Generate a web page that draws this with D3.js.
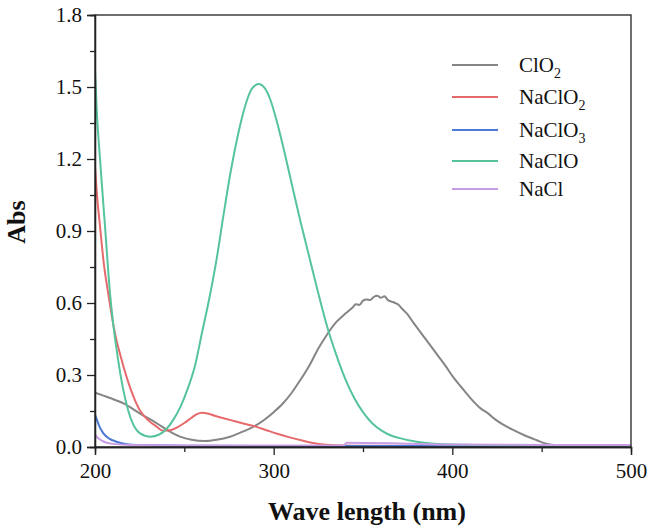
<!DOCTYPE html>
<html>
<head>
<meta charset="utf-8">
<script src="https://cdn.jsdelivr.net/npm/d3@7"></script>
<style>
  html, body { margin: 0; padding: 0; background: #fff; }
  svg { display: block; }
  text { font-family: "Liberation Serif", "Times New Roman", serif; fill: #111; }
</style>
</head>
<body>
<svg id="chart" width="649" height="529"></svg>
<script>
// ---- Data ----
const seriesNames = ["ClO2", "NaClO2", "NaClO3", "NaClO", "NaCl"];
const seriesColors = ["#858585", "#e66a6c", "#4d78d6", "#55c49b", "#c89ce4"];

const wlClO2  = [200, 208, 216, 225, 234.5, 241, 247.6, 254, 261.6, 268, 275.6, 283, 290.5, 300, 305, 310, 315, 320, 325, 330, 335, 340, 344, 346, 348, 350, 352, 354, 356, 358, 360, 362, 364, 366, 368, 370, 372, 374.5, 378, 382, 386, 391, 396, 400.6, 405, 410, 416, 420, 424, 428, 434, 440, 447, 452, 457, 465, 480, 500];
const absClO2 = [0.226, 0.205, 0.182, 0.14, 0.099, 0.068, 0.043, 0.03, 0.025, 0.03, 0.043, 0.065, 0.092, 0.145, 0.18, 0.225, 0.28, 0.34, 0.41, 0.47, 0.52, 0.555, 0.58, 0.595, 0.592, 0.61, 0.615, 0.612, 0.625, 0.63, 0.622, 0.628, 0.612, 0.606, 0.6, 0.592, 0.575, 0.557, 0.52, 0.48, 0.44, 0.39, 0.34, 0.29, 0.25, 0.205, 0.16, 0.14, 0.115, 0.095, 0.071, 0.05, 0.029, 0.015, 0.008, 0.005, 0.004, 0.003];

const wlNaClO2  = [200, 201, 202.8, 205, 207.4, 211, 215, 220, 225, 230, 234.5, 238, 242, 246, 250, 254, 257, 260, 263, 267, 272, 277, 283, 290, 296, 302, 309, 316, 322, 328, 335, 350, 400, 500];
const absNaClO2 = [1.17, 1.06, 0.92, 0.76, 0.64, 0.48, 0.36, 0.24, 0.154, 0.11, 0.085, 0.068, 0.07, 0.082, 0.10, 0.122, 0.137, 0.143, 0.14, 0.13, 0.12, 0.11, 0.098, 0.085, 0.07, 0.055, 0.04, 0.027, 0.017, 0.01, 0.007, 0.005, 0.004, 0.004];

const wlNaClO3  = [200, 201, 202.5, 204.7, 208, 212, 218, 230, 260, 350, 500];
const absNaClO3 = [0.135, 0.115, 0.085, 0.057, 0.035, 0.022, 0.012, 0.007, 0.005, 0.004, 0.004];

const wlNaClO  = [200, 201, 202.8, 205.6, 208.4, 213, 218.5, 225, 231, 236, 240, 244, 248, 252, 256, 260, 264, 268, 272, 276, 280, 284, 288, 291.5, 295, 298, 302, 306, 310, 315, 320, 325, 330, 335, 340, 345, 350, 355, 360, 365, 370, 380, 390, 400, 430, 500];
const absNaClO = [1.57, 1.40, 1.20, 0.92, 0.64, 0.36, 0.154, 0.058, 0.043, 0.052, 0.075, 0.115, 0.17, 0.245, 0.34, 0.48, 0.62, 0.78, 0.97, 1.15, 1.30, 1.42, 1.495, 1.512, 1.495, 1.45, 1.35, 1.23, 1.10, 0.94, 0.79, 0.64, 0.50, 0.385, 0.285, 0.205, 0.145, 0.10, 0.07, 0.05, 0.038, 0.022, 0.014, 0.01, 0.006, 0.004];

const wlNaCl  = [200, 202, 205, 210, 220, 250, 339, 341, 370, 400, 500];
const absNaCl = [0.05, 0.035, 0.022, 0.013, 0.008, 0.006, 0.006, 0.018, 0.015, 0.01, 0.008];

const xMajorTicks = [200, 300, 400, 500];
const xMinorTicks = [250, 350, 450];
const yMajorTicks = [0, 0.3, 0.6, 0.9, 1.2, 1.5, 1.8];
const yMinorTicks = [0.15, 0.45, 0.75, 1.05, 1.35, 1.65];

const xTitle = "Wave length (nm)";
const yTitle = "Abs";

// legend labels: base + subscript
const legendLabels = [["ClO", "2"], ["NaClO", "2"], ["NaClO", "3"], ["NaClO", ""], ["NaCl", ""]];

// ---- Build series ----
const wlArrays = [wlClO2, wlNaClO2, wlNaClO3, wlNaClO, wlNaCl];
const absArrays = [absClO2, absNaClO2, absNaClO3, absNaClO, absNaCl];
const series = seriesNames.map((name, i) => ({
  name, color: seriesColors[i],
  values: wlArrays[i].map((w, j) => ({ w, a: absArrays[i][j] }))
}));

// ---- Layout ----
const mLeft = 95, mRight = 631, mTop = 15, mBottom = 447;
const svg = d3.select("#chart");
const x = d3.scaleLinear().domain([200, 500]).range([mLeft, mRight]);
const y = d3.scaleLinear().domain([0, 1.8]).range([mBottom, mTop]);

svg.append("defs").append("clipPath").attr("id", "plotclip")
  .append("rect").attr("x", mLeft).attr("y", mTop - 2)
  .attr("width", mRight - mLeft).attr("height", mBottom - mTop + 2);

// lines
const line = d3.line().x(d => x(d.w)).y(d => y(d.a)).curve(d3.curveMonotoneX);
const gLines = svg.append("g").attr("clip-path", "url(#plotclip)");
series.forEach(s => {
  gLines.append("path").datum(s.values)
    .attr("fill", "none").attr("stroke", s.color)
    .attr("stroke-width", 2).attr("stroke-linejoin", "round")
    .attr("d", line);
});

// frame
svg.append("rect").attr("x", mLeft).attr("y", mTop)
  .attr("width", mRight - mLeft).attr("height", mBottom - mTop)
  .attr("fill", "none").attr("stroke", "#222").attr("stroke-width", 1.3);

// axes
const fontTick = "21px";
const xAxis = svg.append("g").attr("transform", `translate(0,${mBottom})`)
  .call(d3.axisBottom(x).tickValues(xMajorTicks).tickSize(8).tickPadding(5).tickFormat(d3.format("d")));
const xMinor = svg.append("g").attr("transform", `translate(0,${mBottom})`)
  .call(d3.axisBottom(x).tickValues(xMinorTicks).tickSize(5).tickFormat(""));
const yAxis = svg.append("g").attr("transform", `translate(${mLeft},0)`)
  .call(d3.axisLeft(y).tickValues(yMajorTicks).tickSize(8).tickPadding(5).tickFormat(d3.format(".1f")));
const yMinor = svg.append("g").attr("transform", `translate(${mLeft},0)`)
  .call(d3.axisLeft(y).tickValues(yMinorTicks).tickSize(5).tickFormat(""));

[xAxis, xMinor, yAxis, yMinor].forEach(g => {
  g.select(".domain").attr("stroke", "#222").attr("stroke-width", 1.3);
  g.selectAll(".tick line").attr("stroke", "#222").attr("stroke-width", 1.3);
  g.selectAll(".tick text").attr("font-family", '"Liberation Serif", "Times New Roman", serif')
    .attr("font-size", fontTick).attr("fill", "#222");
});
xAxis.selectAll(".tick text").attr("dy", "0.85em");

// axis titles
svg.append("text").attr("x", 367).attr("y", 520)
  .attr("text-anchor", "middle").attr("font-size", "26px").attr("font-weight", "bold")
  .text(xTitle);
svg.append("text").attr("transform", "translate(25,222) rotate(-90)")
  .attr("text-anchor", "middle").attr("font-size", "26px").attr("font-weight", "bold")
  .text(yTitle);

// legend
const legendY = [65, 97, 130, 161, 189];
const legend = svg.append("g");
series.forEach((s, i) => {
  const ly = legendY[i];
  legend.append("line").attr("x1", 452).attr("x2", 498).attr("y1", ly).attr("y2", ly)
    .attr("stroke", s.color).attr("stroke-width", 2);
  const t = legend.append("text").attr("x", 519).attr("y", ly + 7).attr("font-size", "21px").attr("fill", "#222");
  t.append("tspan").text(legendLabels[i][0]);
  if (legendLabels[i][1]) {
    t.append("tspan").attr("font-size", "14px").attr("dy", 6).text(legendLabels[i][1]);
  }
});
</script>
</body>
</html>
